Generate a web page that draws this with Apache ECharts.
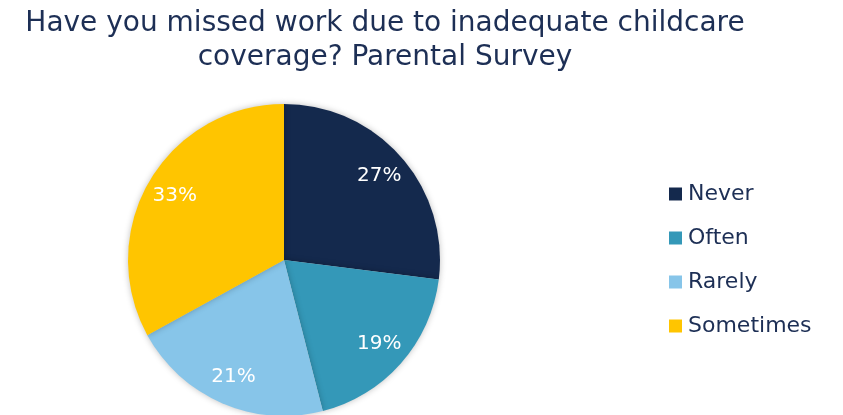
<!DOCTYPE html>
<html>
<head>
<meta charset="utf-8">
<script src="https://cdn.jsdelivr.net/npm/echarts@6/dist/echarts.min.js"></script>
<style>
  html, body { margin: 0; padding: 0; background: #fff; }
  #chart { width: 843px; height: 415px; }
</style>
</head>
<body>
<div id="chart"></div>
<script>
// Survey answers and their shares (percent)
const categories = ['Never', 'Often', 'Rarely', 'Sometimes'];
const shares = [27, 19, 21, 33];
const sliceColors = ['#14294d', '#3498b8', '#87c5e9', '#ffc500'];

const FONT = '"DejaVu Sans", sans-serif';
const TEXT_COLOR = '#1d2f55';

const pieData = categories.map((name, i) => ({
  name,
  value: shares[i],
  itemStyle: { color: sliceColors[i] }
}));

const chart = echarts.init(document.getElementById('chart'), null, { renderer: 'canvas' });

chart.setOption({
  animation: false,
  backgroundColor: '#ffffff',
  title: {
    text: 'Have you missed work due to inadequate childcare\ncoverage? Parental Survey',
    left: 380,
    textAlign: 'center',
    top: 2,
    textStyle: {
      fontFamily: FONT,
      fontWeight: 'normal',
      fontSize: 28,
      lineHeight: 34,
      color: TEXT_COLOR
    }
  },
  legend: {
    orient: 'vertical',
    left: 664,
    top: 178,
    itemWidth: 13,
    itemHeight: 13,
    itemGap: 22,
    icon: 'rect',
    data: categories.map((name, i) => ({ name, itemStyle: { color: sliceColors[i] } })),
    textStyle: {
      fontFamily: FONT,
      fontSize: 22,
      color: TEXT_COLOR,
      padding: [0, 0, 0, 1]
    }
  },
  series: [
    {
      name: 'Slices',
      type: 'pie',
      center: [284, 260],
      radius: [0, 156],
      startAngle: 90,
      clockwise: true,
      label: { show: false },
      labelLine: { show: false },
      itemStyle: {
        shadowBlur: 6,
        shadowColor: 'rgba(0,0,0,0.25)'
      },
      data: pieData
    },
    {
      // transparent ring that only carries the percentage labels
      name: 'Labels',
      type: 'pie',
      center: [284, 260],
      radius: [92, 156],
      startAngle: 90,
      clockwise: true,
      silent: true,
      itemStyle: { color: 'rgba(0,0,0,0)' },
      label: {
        show: true,
        position: 'inside',
        formatter: (p) => p.value + '%',
        fontFamily: FONT,
        fontSize: 20,
        color: '#ffffff'
      },
      labelLine: { show: false },
      data: categories.map((name, i) => ({ name, value: shares[i] }))
    }
  ]
});
</script>
</body>
</html>
